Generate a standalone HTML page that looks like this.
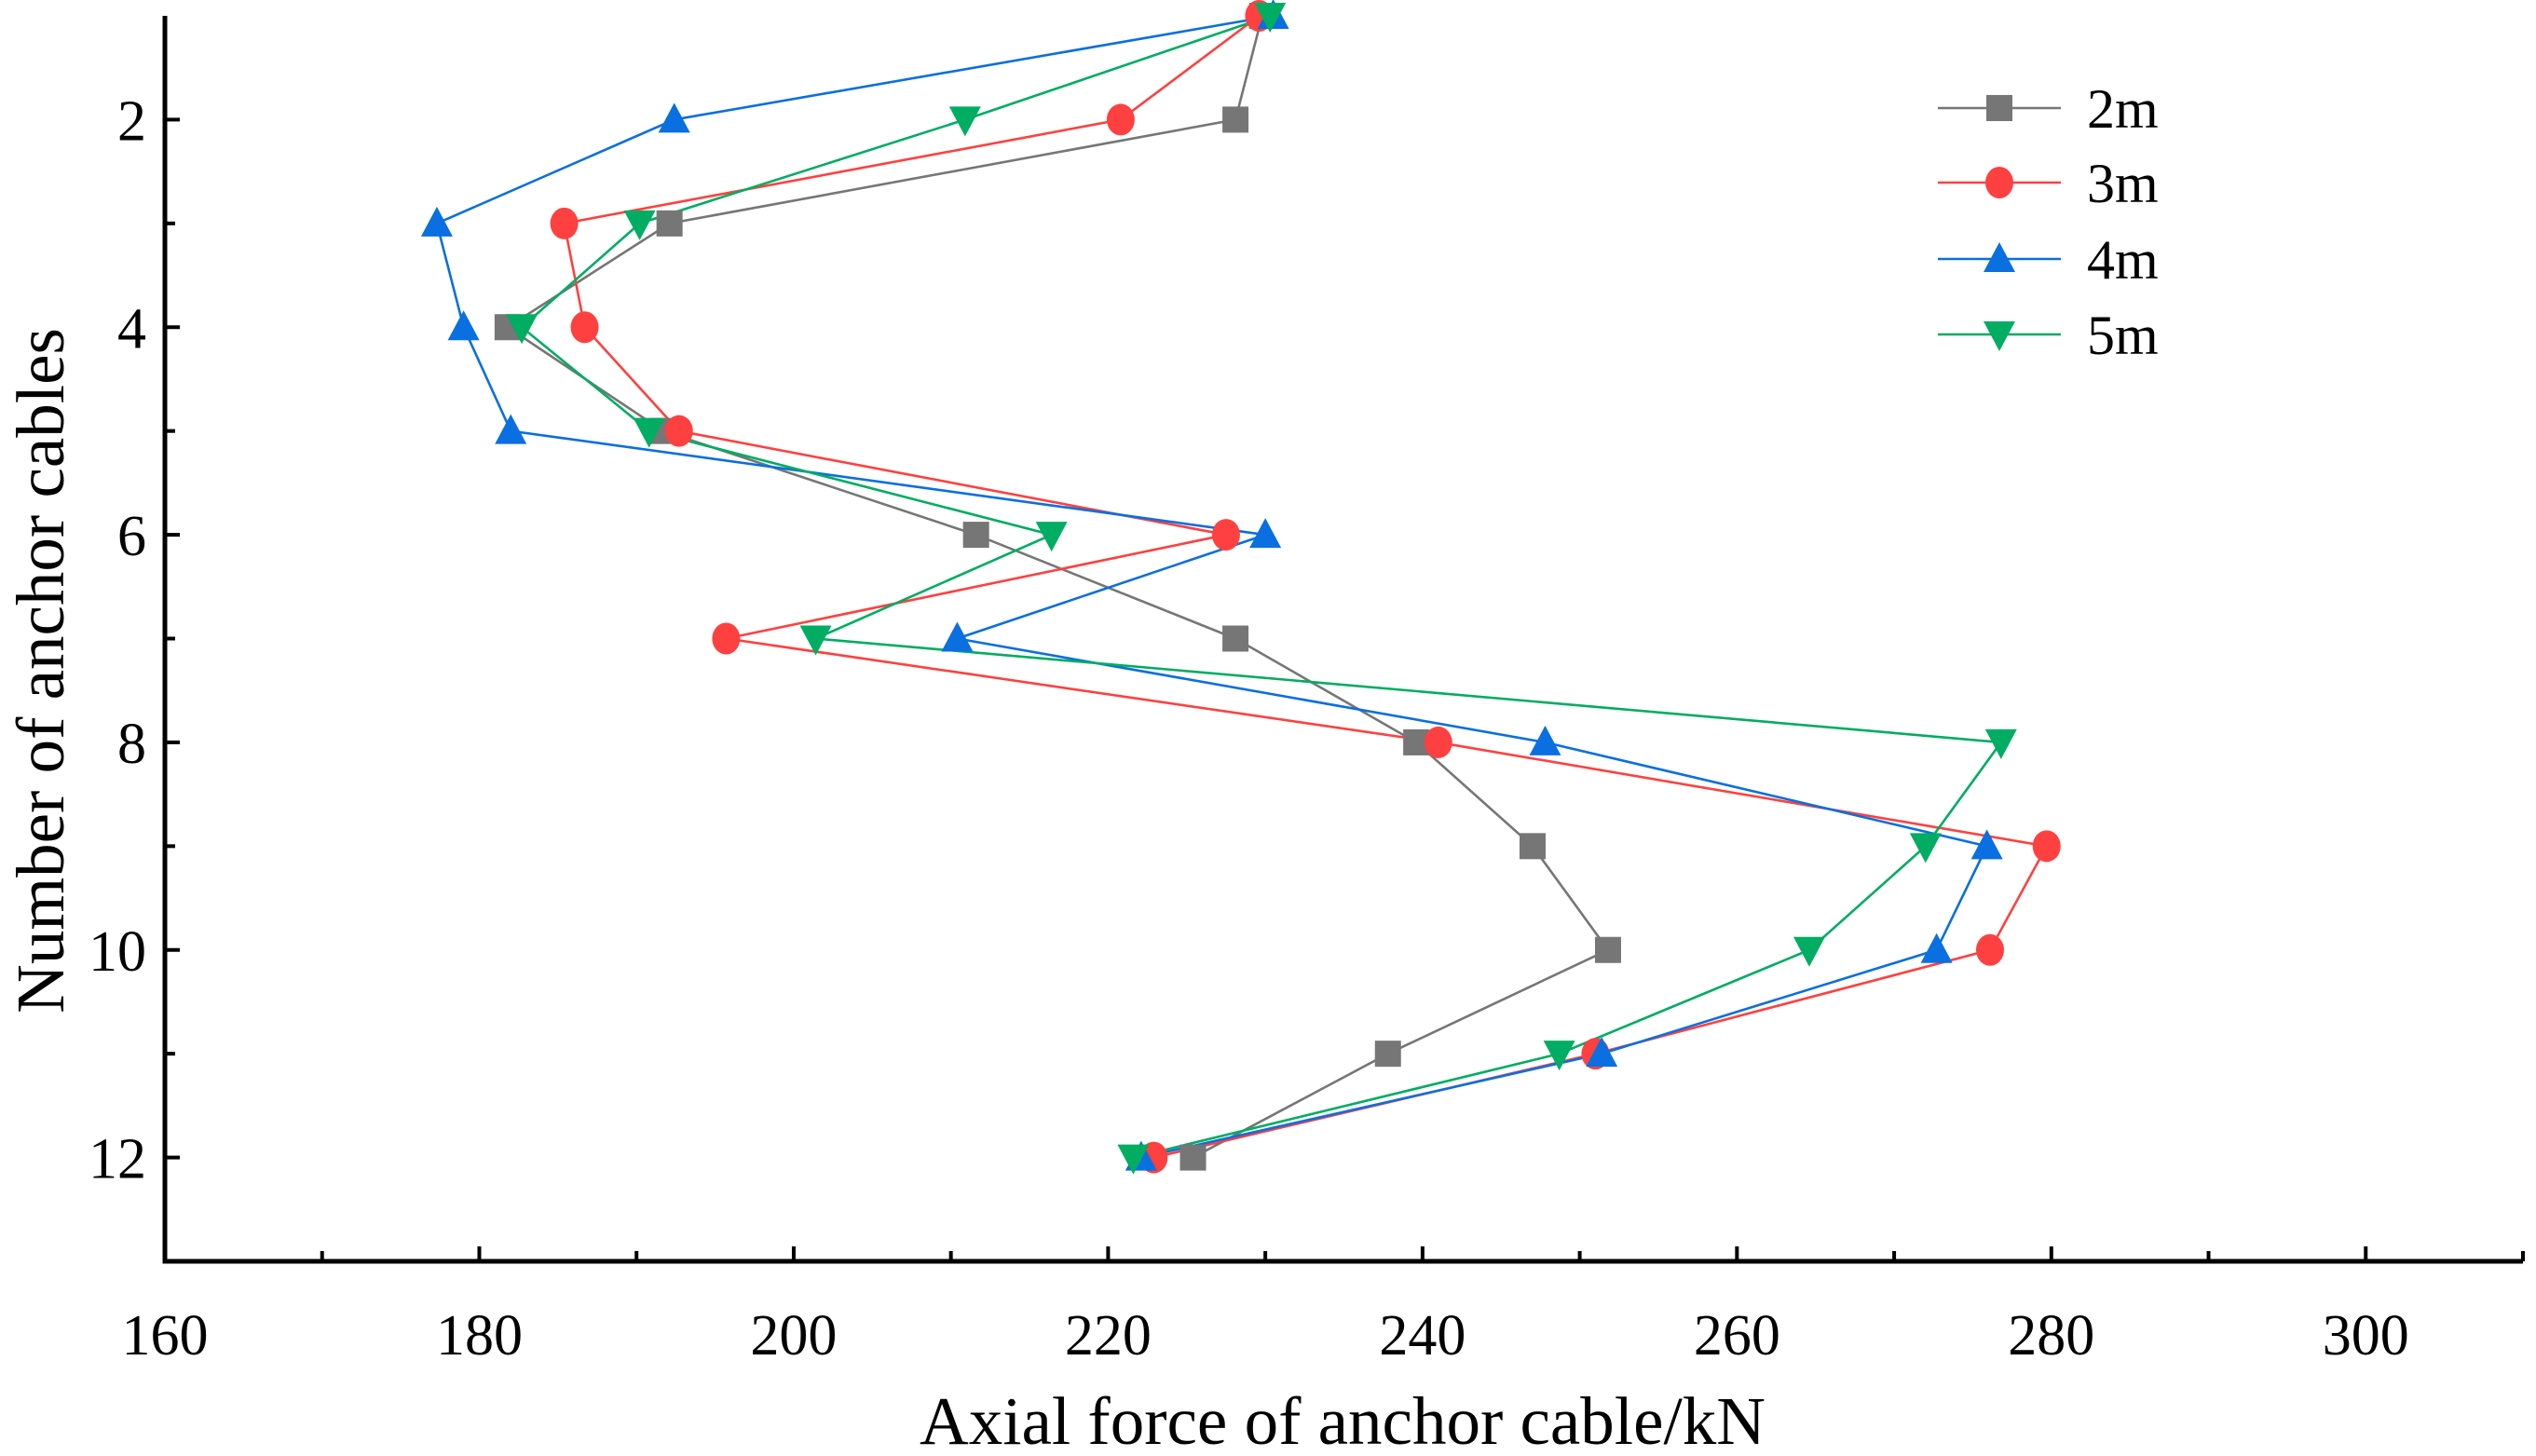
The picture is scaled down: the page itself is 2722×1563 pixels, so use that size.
<!DOCTYPE html>
<html><head><meta charset="utf-8"><style>
html,body{margin:0;padding:0;background:#fff;}
svg{display:block;font-family:"Liberation Serif",serif;}
</style></head><body>
<svg id="chart" width="2722" height="1563" viewBox="0 0 2722 1563" xmlns="http://www.w3.org/2000/svg"></svg>
<script>
const cables=[1,2,3,4,5,6,7,8,9,10,11,12];
const s2m=[229.8,228.1,192.1,181.8,191.7,211.6,228.1,239.6,247.0,251.8,237.8,225.4];
const s3m=[229.6,220.8,185.4,186.7,192.7,227.5,195.7,241.0,279.7,276.1,251.0,222.9];
const s4m=[230.5,192.4,177.3,179.0,182.0,230.0,210.4,247.8,275.9,272.7,251.4,222.1];
const s5m=[230.3,210.9,190.2,182.7,190.8,216.4,201.4,276.8,272.0,264.6,248.7,221.6];
const seriesNames=["2m","3m","4m","5m"];
const xTicks=[160,180,200,220,240,260,280,300];
const yTicks=[2,4,6,8,10,12];

const NS="http://www.w3.org/2000/svg";
const svg=document.getElementById('chart');
const L=177,R=2708,T=17,B=1354;
const xMin=160,xMax=310,yMin=1,yMax=13;
const sx=v=>L+(v-xMin)/(xMax-xMin)*(R-L);
const sy=v=>T+(v-yMin)/(yMax-yMin)*(B-T);
function mk(tag,attrs){const e=document.createElementNS(NS,tag);for(const k in attrs)e.setAttribute(k,attrs[k]);svg.appendChild(e);return e;}

for(let v=170;v<=310;v+=10){
  const major=(v%20===0);
  const t=mk('line',{x1:sx(v),x2:sx(v),y1:B,y2:B-(major?16:11),stroke:'#000','stroke-width':4});
  
  
}
xTicks.forEach(v=>{
  const t=mk('text',{x:sx(v),y:1454,'font-size':62,'text-anchor':'middle',fill:'#000'});
  t.textContent=v;
  
  
});
for(let v=2;v<=12;v+=1){
  const major=(v%2===0);
  const t=mk('line',{x1:L,x2:L+(major?16:11),y1:sy(v),y2:sy(v),stroke:'#000','stroke-width':4});
  
  
}
yTicks.forEach(v=>{
  const t=mk('text',{x:157,y:sy(v)+22,'font-size':62,'text-anchor':'end',fill:'#000'});
  t.textContent=v;
  
  
});
const ax=mk('path',{d:`M${L},${T} L${L},${B} L${R},${B}`,fill:'none',stroke:'#000','stroke-width':5});



const xt=mk('text',{x:1441,y:1550,'font-size':73,'text-anchor':'middle',fill:'#000'});
xt.textContent='Axial force of anchor cable/kN';


const yt=mk('text',{x:0,y:0,'font-size':73,'text-anchor':'middle',fill:'#000',transform:'translate(68,720) rotate(-90)'});
yt.textContent='Number of anchor cables';



const colors=['#767676','#ff4040','#0a6fe0','#00ad62'];
const shapes=['square','circle','up','down'];
const data=[s2m,s3m,s4m,s5m];

function marker(shape,x,y,c){
  let e;
  const r=16;
  if(shape==='square')e=mk('rect',{x:x-14,y:y-14,width:28,height:28,fill:c});
  else if(shape==='circle')e=mk('ellipse',{cx:x,cy:y,rx:15,ry:17,fill:c});
  else if(shape==='up')e=mk('polygon',{points:`${x},${y-r-2} ${x-r-1},${y+r-2} ${x+r+1},${y+r-2}`,fill:c});
  else e=mk('polygon',{points:`${x},${y+r+2} ${x-r-1},${y-r+2} ${x+r+1},${y-r+2}`,fill:c});
  return e;
}

data.forEach((arr,si)=>{
  const pts=arr.map((v,i)=>`${sx(v)},${sy(cables[i])}`).join(' ');
  const pl=mk('polyline',{points:pts,fill:'none',stroke:colors[si],'stroke-width':2.6});
  
  
});
data.forEach((arr,si)=>{
  arr.forEach((v,i)=>{
    const m=marker(shapes[si],sx(v),sy(cables[i]),colors[si]);
    
    
  });
});

const legY=[116,196,278,359];
seriesNames.forEach((n,si)=>{
  const y=legY[si];
  const l=mk('line',{x1:2080,x2:2212,y1:y,y2:y,stroke:colors[si],'stroke-width':2.6});
  
  
  const m=marker(shapes[si],2146,y,colors[si]);
  
  
  const t=mk('text',{x:2240,y:y+21,'font-size':60,fill:'#000'});
  t.textContent=n;
  
  
});
</script>
</body></html>
